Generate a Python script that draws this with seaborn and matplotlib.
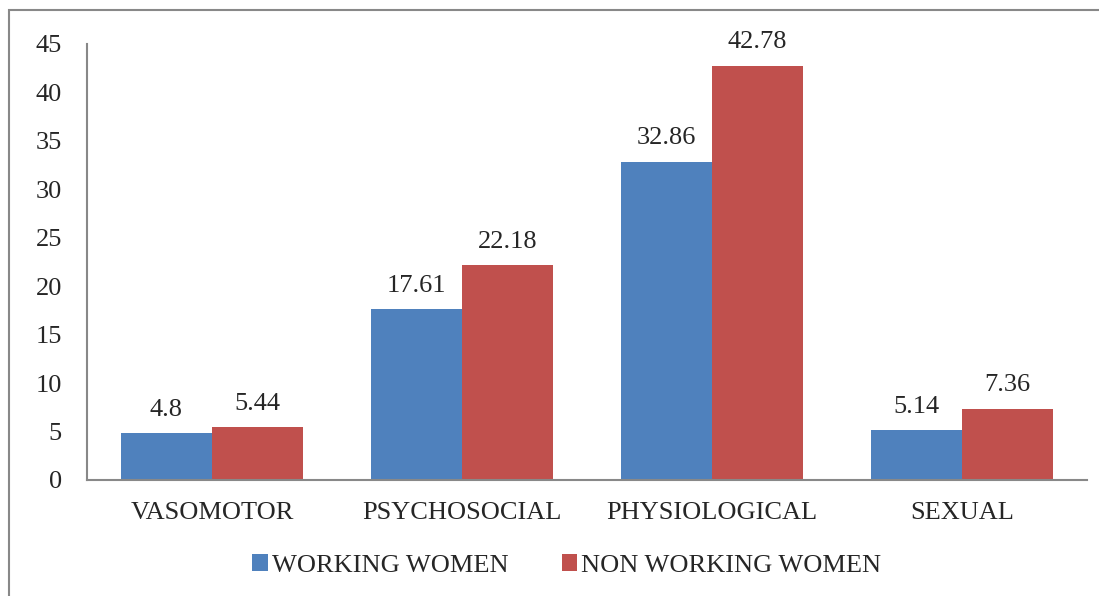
import pandas as pd
import seaborn as sns
import matplotlib.pyplot as plt
from matplotlib.patches import Rectangle

# Chart data
categories = ['VASOMOTOR', 'PSYCHOSOCIAL', 'PHYSIOLOGICAL', 'SEXUAL']
working = [4.8, 17.61, 32.86, 5.14]
non_working = [5.44, 22.18, 42.78, 7.36]
series_names = ['WORKING WOMEN', 'NON WORKING WOMEN']
yticks = [0, 5, 10, 15, 20, 25, 30, 35, 40, 45]

df = pd.DataFrame({
    'category': categories * 2,
    'value': working + non_working,
    'group': [series_names[0]] * 4 + [series_names[1]] * 4,
})

sns.set_style('white')
plt.rcParams['font.family'] = ['Liberation Serif', 'DejaVu Serif']

fig = plt.figure(figsize=(10.99, 5.96), dpi=100)
ax = fig.add_axes([87 / 1099, 1 - 480 / 596, 1000 / 1099, 436 / 596])

# grey frame around the chart area
fig.patches.append(Rectangle((9 / 1099, -0.1), 1.2, 1 - 10 / 596 + 0.1,
                             transform=fig.transFigure, fill=False,
                             edgecolor='#888888', linewidth=1.5))

sns.barplot(data=df, x='category', y='value', hue='group', order=categories,
            hue_order=series_names, palette=['#4F81BD', '#C0504D'],
            width=0.73, saturation=1, linewidth=0, ax=ax)

labels = [working, non_working]
for cont, vals in zip(ax.containers, labels):
    ax.bar_label(cont, labels=[str(v) for v in vals], padding=9, fontsize=19)

ax.set_ylim(0, 45)
ax.set_xlim(-0.5, 3.5)
ax.set_yticks(yticks)
ax.set_xlabel('')
ax.set_ylabel('')
ax.tick_params(axis='both', labelsize=19, length=0)
ax.tick_params(axis='y', pad=18)
ax.tick_params(axis='x', pad=16)
for side in ['top', 'right']:
    ax.spines[side].set_visible(False)
for side in ['left', 'bottom']:
    ax.spines[side].set_color('#888888')
    ax.spines[side].set_linewidth(1.5)

ax.legend(loc='upper center', bbox_to_anchor=(0.48, -0.115), ncol=2, frameon=False,
          fontsize=19, handlelength=0.6, handleheight=0.6, handletextpad=0.15,
          columnspacing=2.0)

fig.savefig('out.png', dpi=100)
